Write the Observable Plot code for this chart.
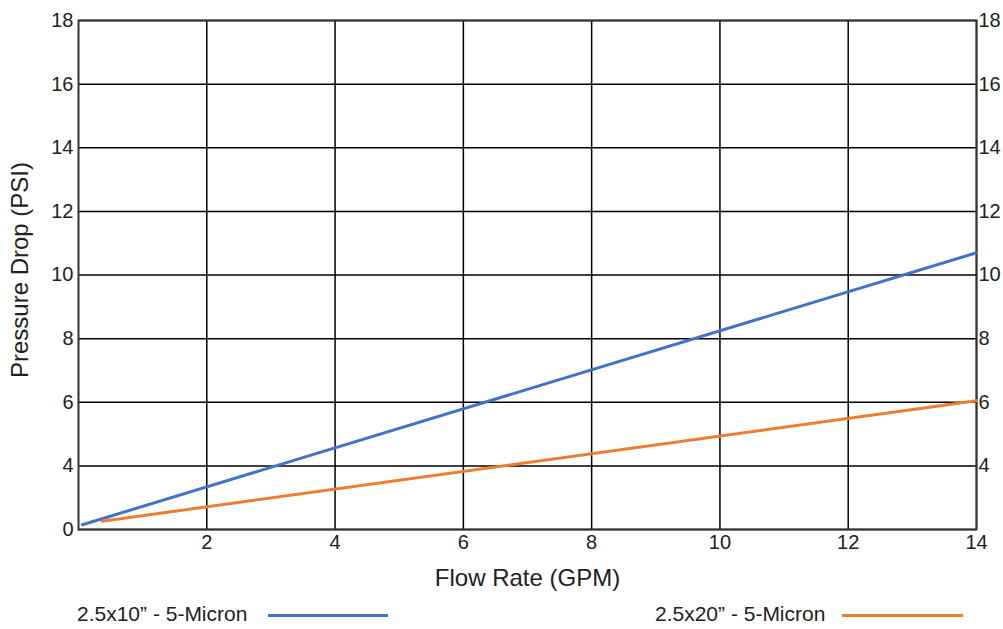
<!DOCTYPE html>
<html>
<head>
<meta charset="utf-8">
<script src="https://cdn.jsdelivr.net/npm/d3@7"></script>
<script src="https://cdn.jsdelivr.net/npm/@observablehq/plot@0.6"></script>
<style>
  html, body { margin: 0; padding: 0; background: #fff; }
  #wrap { position: relative; width: 1003px; height: 629px; font-family: "Liberation Sans", Arial, sans-serif; color: #222; }
  .leg { position: absolute; font-size: 21px; line-height: 21px; white-space: nowrap; }
  .sw { position: absolute; height: 3px; }
</style>
</head>
<body>
<div id="wrap"></div>
<script>
// Data
const series = ["2.5x10\u201d - 5-Micron", "2.5x20\u201d - 5-Micron"];
const seriesColors = ["#4472C4", "#ED7D31"];
const blueFlow = [0.06, 14];
const bluePsi = [2.15, 10.7];
const orangeFlow = [0.37, 14];
const orangePsi = [2.26, 6.05];
// Axis ticks (the bottom gridline of this chart is labelled "0")
const xTicks = [2, 4, 6, 8, 10, 12, 14];
const yTicksLeft = [2, 4, 6, 8, 10, 12, 14, 16, 18];
const yTickLabelsLeft = ["0", "4", "6", "8", "10", "12", "14", "16", "18"];
const yTicksRight = [4, 6, 8, 10, 12, 14, 16, 18];

const rows = [
  ...blueFlow.map((f, i) => ({series: series[0], flow: f, psi: bluePsi[i]})),
  ...orangeFlow.map((f, i) => ({series: series[1], flow: f, psi: orangePsi[i]}))
];
const labelOf = new Map(yTicksLeft.map((t, i) => [t, yTickLabelsLeft[i]]));

const chart = Plot.plot({
  width: 1003,
  height: 595,
  marginLeft: 78,
  marginRight: 27,
  marginTop: 20,
  marginBottom: 66,
  x: {domain: [0, 14]},
  y: {domain: [2, 18]},
  color: {domain: series, range: seriesColors},
  style: {fontFamily: "'Liberation Sans', Arial, sans-serif", fontSize: "20px", color: "#222", background: "#fff"},
  marks: [
    Plot.gridX(xTicks, {stroke: "#000", strokeOpacity: 1, strokeWidth: 1.5}),
    Plot.gridY(yTicksLeft, {stroke: "#000", strokeOpacity: 1, strokeWidth: 1.5}),
    Plot.frame({stroke: "#333", strokeWidth: 2}),
    Plot.axisX(xTicks, {tickSize: 0, tickPadding: 5, label: null, fontSize: 20}),
    Plot.axisY(yTicksLeft, {anchor: "left", tickSize: 0, tickPadding: 5, label: null, tickFormat: d => labelOf.get(d), fontSize: 20}),
    Plot.axisY(yTicksRight, {anchor: "right", tickSize: 0, tickPadding: 2, label: null, fontSize: 20}),
    Plot.line(rows, {x: "flow", y: "psi", z: "series", stroke: "series", strokeWidth: 3}),
    Plot.text(["Flow Rate (GPM)"], {frameAnchor: "bottom", textAnchor: "middle", lineAnchor: "middle", dy: 49, fontSize: 24, fill: "#222"}),
    Plot.text(["Pressure Drop (PSI)"], {frameAnchor: "left", textAnchor: "middle", lineAnchor: "middle", dx: -58, dy: -5, rotate: -90, fontSize: 24, fill: "#222"})
  ]
});

const wrap = document.getElementById("wrap");
wrap.appendChild(chart);

// Legend below the chart
const legendPos = [
  {textX: 77, lineX: 268, lineW: 120},
  {textX: 655, lineX: 842, lineW: 121}
];
series.forEach((s, i) => {
  const t = document.createElement("div");
  t.className = "leg";
  t.textContent = s;
  t.style.left = legendPos[i].textX + "px";
  t.style.top = "603px";
  wrap.appendChild(t);
  const l = document.createElement("div");
  l.className = "sw";
  l.style.left = legendPos[i].lineX + "px";
  l.style.width = legendPos[i].lineW + "px";
  l.style.top = "614px";
  l.style.background = seriesColors[i];
  wrap.appendChild(l);
});
</script>
</body>
</html>
